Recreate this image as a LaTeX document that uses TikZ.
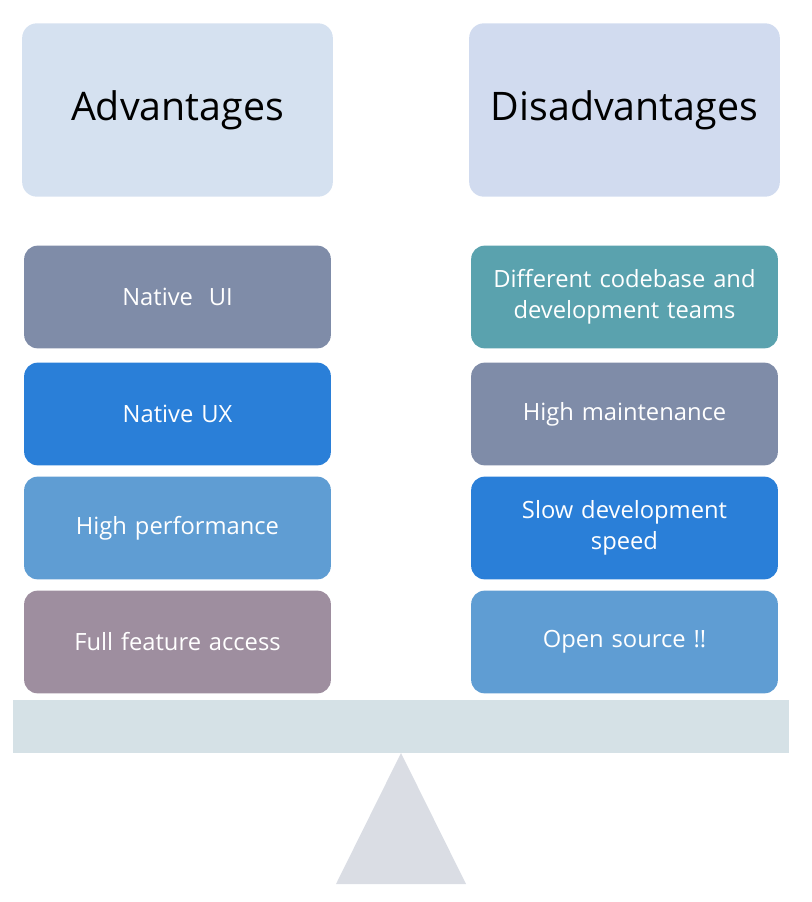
\documentclass[tikz,border=0pt]{standalone}
\usepackage{fontspec}
\setmainfont{Open Sans}
\usepackage{xcolor}
\usepackage{tikz}

\definecolor{headL}{HTML}{D5E1F0}
\definecolor{headR}{HTML}{D1DBEF}
\definecolor{slate}{HTML}{7F8CA8}
\definecolor{azure}{HTML}{2A7FD8}
\definecolor{sky}{HTML}{5F9DD3}
\definecolor{mauve}{HTML}{9E8E9F}
\definecolor{teal}{HTML}{5AA2AE}
\definecolor{beam}{HTML}{D5E1E6}
\definecolor{pivot}{HTML}{DADDE4}

\tikzset{
  head/.style={rectangle, rounded corners=11pt, minimum width=233pt, minimum height=130pt,
    font=\fontsize{29.5}{34}\selectfont, text=black},
  item/.style={rectangle, rounded corners=10pt, minimum width=230pt, minimum height=77pt,
    text width=220pt, align=center, font=\fontsize{17.8}{23.5}\selectfont, text=white}
}

\begin{document}
\begin{tikzpicture}[x=0.75pt,y=-0.75pt]
        \useasboundingbox (0,0) rectangle (812,902);
        %标题
        \node[head, fill=headL] (adv) at (177.5,110) {Advantages};
        \node[head, fill=headR] (dis) at (624.5,110) {Disadvantages};
        %左边一列
        \foreach \n/\y/\c/\t in {1/297/slate/{Native\ \ UI},
                2/414/azure/{Native UX},
                3/528/sky/{High performance},
                4/642/mauve/{Full feature access}}
                \node[item, fill=\c] (a\n) at (177.5,\y) {\t};
        %右边一列
        \foreach \n/\y/\c/\t in {1/297/teal/{Different codebase and\\development teams},
                2/414/slate/{High maintenance},
                3/528/azure/{Slow development\\speed},
                4/642/sky/{Open source !!}}
                \node[item, fill=\c] (d\n) at (624.5,\y) {\t};
        %画天平
        \fill[beam] (13,700) rectangle (789,753);
        \coordinate (apex) at (401,753);
        \fill[pivot] (apex) -- (466,884) -- (336,884) -- cycle;
\end{tikzpicture}
\end{document}
